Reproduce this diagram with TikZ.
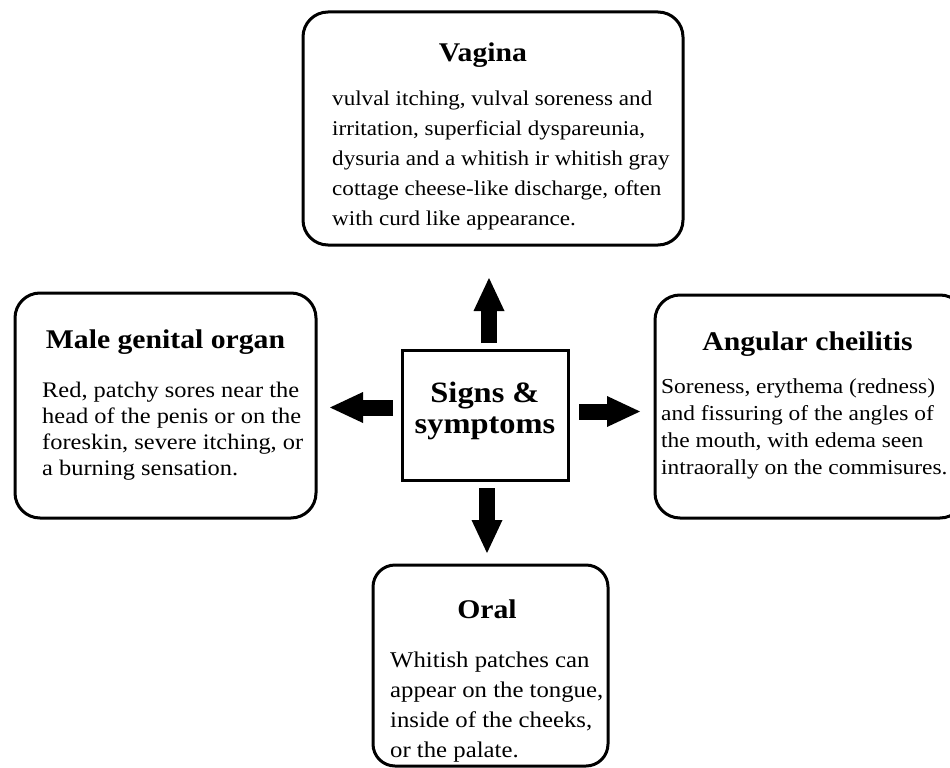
\documentclass[tikz,border=0pt]{standalone}
\usepackage{fontspec}
\setmainfont[FakeStretch=1.1]{Liberation Serif}
\usetikzlibrary{arrows.meta}
\begin{document}
\begin{tikzpicture}[x=1pt,y=-1pt,
  box/.style={draw=black, line width=3pt, rounded corners=25pt, fill=white, inner sep=0pt, outer sep=0pt},
  cbox/.style={draw=black, line width=3pt, fill=white, inner sep=0pt, outer sep=0pt},
  ttl/.style={anchor=base, inner sep=0pt, font=\fontsize{27}{30}\selectfont\bfseries},
  body/.style={anchor=north west, inner sep=0pt, align=left},
  blk/.style={line width=16pt, -{Triangle[width=31pt,length=33pt,line width=0pt]}}]
\useasboundingbox (0,0) rectangle (950,768);
\clip (0,0) rectangle (950,768);
% boxes
\node[box, minimum width=380pt, minimum height=233pt] (vag) at (493,128.5) {};
\node[box, minimum width=301pt, minimum height=225pt] (male) at (165.5,405.5) {};
\node[box, minimum width=310pt, minimum height=223pt] (ang) at (810,406.5) {};
\node[box, minimum width=235pt, minimum height=201pt, rounded corners=22pt] (oral) at (490.5,665.5) {};
\node[cbox, minimum width=166pt, minimum height=130pt] (ss) at (485,415) {};
% titles
\node[ttl] (vagt) at (483,62) {Vagina};
\node[ttl] (malet) at (165.5,348) {Male genital organ};
\node[ttl] (angt) at (807.5,350) {Angular cheilitis};
\node[ttl] (oralt) at (487,618) {Oral};
\node[anchor=north, inner sep=0pt, align=center, font=\fontsize{29.5}{31}\selectfont\bfseries] (sst) at (485,380.3) {\strut Signs \&\\symptoms};
% bodies
\node[body, font=\fontsize{21}{30}\selectfont] (vagb) at (332,84) {\strut vulval itching, vulval soreness and\\irritation, superficial dyspareunia,\\dysuria and a whitish ir whitish gray\\cottage cheese-like discharge, often\\with curd like appearance.};
\node[body, font=\fontsize{22.2}{26}\selectfont] (maleb) at (42,379.5) {\strut Red, patchy sores near the\\head of the penis or on the\\foreskin, severe itching, or\\a burning sensation.};
\node[body, font=\fontsize{21.3}{27}\selectfont] (angb) at (661,374.1) {\strut Soreness, erythema (redness)\\and fissuring of the angles of\\the mouth, with edema seen\\intraorally on the commisures.};
\node[body, font=\fontsize{22.5}{30}\selectfont] (oralb) at (390,646) {\strut Whitish patches can\\appear on the tongue,\\inside of the cheeks,\\or the palate.};
% arrows
\draw[blk, shorten <=7pt, shorten >=33pt] ([xshift=4pt]ss.north) -- ([xshift=4pt]ss.north |- vag.south);
\draw[blk, shorten <=8pt, shorten >=12pt] ([xshift=2pt]ss.south) -- ([xshift=2pt]ss.south |- oral.north);
\draw[blk, shorten <=9pt, shorten >=14pt] ([yshift=7.5pt]ss.west) -- ([yshift=7.5pt]ss.west -| male.east);
\draw[blk, shorten <=11pt, shorten >=15pt] ([yshift=3.5pt]ss.east) -- ([yshift=3.5pt]ss.east -| ang.west);
\end{tikzpicture}
\end{document}
